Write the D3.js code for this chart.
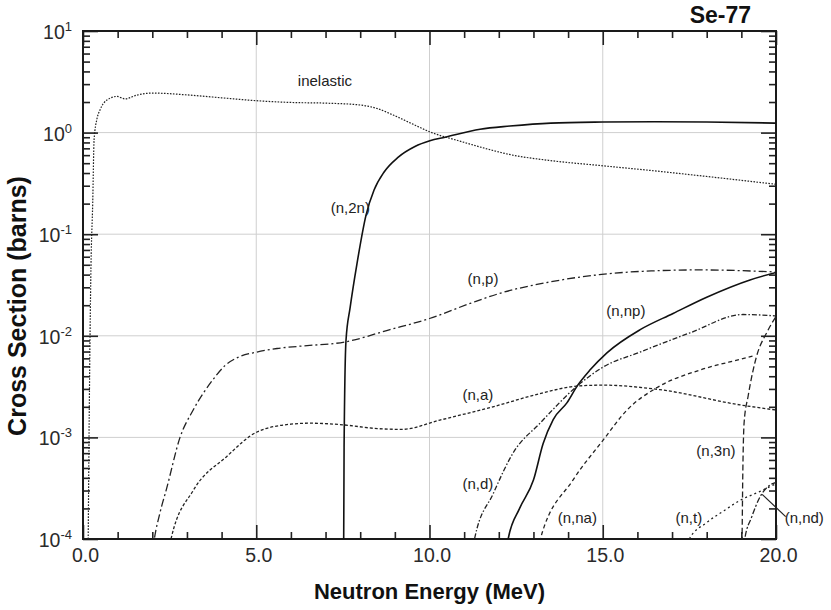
<!DOCTYPE html>
<html>
<head>
<meta charset="utf-8">
<script src="https://cdn.jsdelivr.net/npm/d3@7"></script>
<style>
  html, body { margin: 0; padding: 0; background: #fff; }
  svg { display: block; font-family: "Liberation Sans", Arial, Helvetica, sans-serif; }
</style>
</head>
<body>
<svg id="chart" width="831" height="610"></svg>
<script>
// Se-77 neutron cross sections (barns) vs incident neutron energy (MeV)
const inelasticE  = [0.15, 0.18, 0.23, 0.28, 0.32, 0.40, 0.49, 0.69, 0.98, 1.21, 1.56, 2.0, 3.0, 4.0, 5.1, 6.0, 7.0, 8.0, 8.5, 8.95, 9.5, 10.0, 10.9, 11.6, 12.3, 13.5, 14.9, 16.5, 18.0, 20.0];
const inelasticXS = [1e-4, 1.7e-3, 0.048, 0.2, 0.85, 1.35, 1.67, 2.09, 2.27, 2.15, 2.34, 2.45, 2.35, 2.2, 2.05, 1.98, 1.95, 1.87, 1.72, 1.49, 1.22, 1.02, 0.82, 0.70, 0.61, 0.53, 0.475, 0.42, 0.37, 0.31];

const n2nE  = [7.52, 7.535, 7.59, 7.71, 7.91, 8.17, 8.40, 8.69, 9.09, 9.58, 10.01, 10.45, 11.46, 12.32, 13.5, 15.0, 16.5, 18.0, 20.0];
const n2nXS = [5e-5, 8e-4, 9e-3, 0.019, 0.052, 0.155, 0.272, 0.41, 0.57, 0.73, 0.83, 0.90, 1.08, 1.16, 1.24, 1.27, 1.28, 1.27, 1.24];

const npE  = [1.95, 2.06, 2.22, 2.42, 2.8, 3.18, 3.75, 4.1, 4.5, 5.0, 5.6, 6.26, 7.56, 8.86, 10.0, 11.2, 12.0, 13.5, 14.9, 16.4, 17.8, 20.0];
const npXS = [5e-5, 1e-4, 1.8e-4, 3.2e-4, 1e-3, 1.86e-3, 3.7e-3, 5.1e-3, 6.2e-3, 6.9e-3, 7.5e-3, 7.9e-3, 8.7e-3, 0.0115, 0.0148, 0.021, 0.026, 0.034, 0.040, 0.0435, 0.0445, 0.0425];

const naE  = [2.5, 2.54, 3.18, 4.15, 5.02, 6.0, 6.55, 7.5, 8.5, 9.2, 10.3, 11.83, 13.19, 14.26, 15.0, 16.65, 18.96, 20.0];
const naXS = [8e-5, 1e-4, 3.0e-4, 6.5e-4, 1.13e-3, 1.35e-3, 1.38e-3, 1.33e-3, 1.22e-3, 1.2e-3, 1.48e-3, 2.0e-3, 2.7e-3, 3.2e-3, 3.27e-3, 2.95e-3, 2.09e-3, 1.86e-3];

const nnpE  = [12.2, 12.27, 12.6, 13.0, 13.28, 13.57, 13.97, 14.26, 14.63, 15.12, 16.08, 17.03, 18.0, 19.25, 20.0];
const nnpXS = [6e-5, 1e-4, 2.0e-4, 3.8e-4, 8.7e-4, 1.5e-3, 2.2e-3, 3.2e-3, 4.6e-3, 6.8e-3, 0.0115, 0.0166, 0.024, 0.0355, 0.042];

const ndE  = [11.25, 11.3, 11.84, 12.42, 13.19, 14.26, 15.0, 16.07, 17.52, 19.05, 20.0];
const ndXS = [8e-5, 1e-4, 2.8e-4, 7.1e-4, 1.38e-3, 3.2e-3, 4.9e-3, 6.9e-3, 0.0107, 0.0162, 0.0157];

const nnaE  = [13.15, 13.2, 14.14, 15.0, 15.7, 16.57, 17.8, 19.0, 19.4];
const nnaXS = [8e-5, 1e-4, 3.8e-4, 9.3e-4, 1.86e-3, 3.1e-3, 4.6e-3, 5.9e-3, 6.4e-3];

const n3nE  = [18.99, 19.02, 19.04, 19.08, 19.2, 19.44, 19.73, 20.0];
const n3nXS = [5e-5, 1e-4, 4e-4, 1.4e-3, 2.6e-3, 6.3e-3, 0.0107, 0.0155];

const ntE  = [17.45, 17.5, 18.0, 18.5, 18.96, 19.5, 20.0];
const ntXS = [8e-5, 1e-4, 1.45e-4, 1.9e-4, 2.4e-4, 2.9e-4, 3.5e-4];

const nndE  = [19.08, 19.1, 19.3, 19.54, 19.83, 20.0];
const nndXS = [8e-5, 1e-4, 1.65e-4, 2.6e-4, 3.4e-4, 3.6e-4];

// Axis ticks
const xMajorTicks = [0, 5, 10, 15, 20];
const xMinorTicks = d3.range(0, 21, 1);
const yDecades = [-4, -3, -2, -1, 0, 1];

// Reaction curves with label placement (label anchored in data space)
const reactions = [
  { name: "inelastic", e: inelasticE, xs: inelasticXS, dash: "1.6,1.4", w: 1.2, label: "inelastic", lx: 6.2,  ly: 2.9 },
  { name: "n2n",  e: n2nE, xs: n2nXS, dash: null,          w: 1.6, label: "(n,2n)", lx: 7.15, ly: 0.16 },
  { name: "np",   e: npE,  xs: npXS,  dash: "8,3,2,3",     w: 1.3, label: "(n,p)",  lx: 11.1, ly: 0.0325 },
  { name: "na",   e: naE,  xs: naXS,  dash: "3,2",         w: 1.3, label: "(n,a)",  lx: 10.95, ly: 2.35e-3 },
  { name: "nnp",  e: nnpE, xs: nnpXS, dash: null,          w: 1.6, label: "(n,np)", lx: 15.1, ly: 0.0158 },
  { name: "nd",   e: ndE,  xs: ndXS,  dash: "5,2,1.5,2",   w: 1.3, label: "(n,d)",  lx: 10.95, ly: 3.1e-4 },
  { name: "nna",  e: nnaE, xs: nnaXS, dash: "4,3",         w: 1.3, label: "(n,na)", lx: 13.7, ly: 1.45e-4 },
  { name: "n3n",  e: n3nE, xs: n3nXS, dash: "6,3",         w: 1.3, label: "(n,3n)", lx: 17.7, ly: 6.6e-4 },
  { name: "nt",   e: ntE,  xs: ntXS,  dash: "2,3",         w: 1.3, label: "(n,t)",  lx: 17.1, ly: 1.45e-4 },
  { name: "nnd",  e: nndE, xs: nndXS, dash: "6,2,2,2",     w: 1.3, label: "(n,nd)", lx: 20.25, ly: 1.45e-4 }
];

const svg = d3.select("#chart");
const plotLeft = 83, plotRight = 776, plotTop = 31, plotBottom = 539;

const x = d3.scaleLinear().domain([0, 20]).range([plotLeft, plotRight]);
const y = d3.scaleLog().domain([1e-4, 10]).range([plotBottom, plotTop]);

// grid
const grid = svg.append("g").attr("stroke", "#cfcfcf").attr("stroke-width", 1);
xMajorTicks.filter(v => v > 0 && v < 20).forEach(v => {
  grid.append("line").attr("x1", x(v)).attr("x2", x(v)).attr("y1", plotTop).attr("y2", plotBottom);
});
yDecades.filter(d => d > -4 && d < 1).forEach(d => {
  grid.append("line").attr("x1", plotLeft).attr("x2", plotRight)
    .attr("y1", y(Math.pow(10, d))).attr("y2", y(Math.pow(10, d)));
});

// minor y tick values
const yMinorTicks = [];
for (let d = -4; d < 1; d++) for (let k = 2; k <= 9; k++) yMinorTicks.push(k * Math.pow(10, d));
const yMajorTicks = yDecades.map(d => Math.pow(10, d));

function styleAxis(g) {
  g.select(".domain").remove();
  g.selectAll(".tick line").attr("stroke", "#222").attr("stroke-width", 1.6);
}

// bottom axis
svg.append("g").attr("transform", `translate(0,${plotBottom})`)
  .call(d3.axisBottom(x).tickValues(xMinorTicks.filter(v => v % 5 !== 0)).tickSize(-7).tickFormat(""))
  .call(styleAxis);
svg.append("g").attr("transform", `translate(0,${plotBottom})`)
  .call(d3.axisBottom(x).tickValues(xMajorTicks).tickSize(-14).tickPadding(9).tickFormat(d3.format(".1f")))
  .call(styleAxis)
  .call(g => g.selectAll(".tick text").attr("font-size", 19.5).attr("fill", "#2a2a2a")
    .attr("font-family", "'Liberation Sans', Arial, sans-serif").attr("dx", 2));

// top axis
svg.append("g").attr("transform", `translate(0,${plotTop})`)
  .call(d3.axisTop(x).tickValues(xMinorTicks.filter(v => v % 5 !== 0)).tickSize(-7).tickFormat(""))
  .call(styleAxis);
svg.append("g").attr("transform", `translate(0,${plotTop})`)
  .call(d3.axisTop(x).tickValues(xMajorTicks).tickSize(-14).tickFormat(""))
  .call(styleAxis);

// left axis
svg.append("g").attr("transform", `translate(${plotLeft},0)`)
  .call(d3.axisLeft(y).tickValues(yMinorTicks).tickSize(-7).tickFormat(""))
  .call(styleAxis);
svg.append("g").attr("transform", `translate(${plotLeft},0)`)
  .call(d3.axisLeft(y).tickValues(yMajorTicks).tickSize(-15).tickFormat(""))
  .call(styleAxis);

// right axis
svg.append("g").attr("transform", `translate(${plotRight},0)`)
  .call(d3.axisRight(y).tickValues(yMinorTicks).tickSize(-7).tickFormat(""))
  .call(styleAxis);
svg.append("g").attr("transform", `translate(${plotRight},0)`)
  .call(d3.axisRight(y).tickValues(yMajorTicks).tickSize(-15).tickFormat(""))
  .call(styleAxis);

// y tick labels with superscript exponents
const yLab = svg.append("g").attr("fill", "#2a2a2a");
yDecades.forEach(d => {
  const t = yLab.append("text")
    .attr("x", 72).attr("y", y(Math.pow(10, d)) + 8)
    .attr("text-anchor", "end");
  t.append("tspan").attr("font-size", 19.5).text("10");
  t.append("tspan").attr("font-size", 13).attr("dy", -8).text(String(d));
});

// frame
svg.append("rect").attr("x", plotLeft).attr("y", plotTop)
  .attr("width", plotRight - plotLeft).attr("height", plotBottom - plotTop)
  .attr("fill", "none").attr("stroke", "#1a1a1a").attr("stroke-width", 2);

// clip
svg.append("clipPath").attr("id", "plotClip")
  .append("rect").attr("x", plotLeft).attr("y", plotTop)
  .attr("width", plotRight - plotLeft).attr("height", plotBottom - plotTop);

const line = d3.line()
  .x(d => x(d[0]))
  .y(d => y(d[1]))
  .curve(d3.curveMonotoneX);

const curves = svg.append("g").attr("clip-path", "url(#plotClip)");
reactions.forEach(r => {
  const pts = r.e.map((e, i) => [e, r.xs[i]]);
  curves.append("path")
    .attr("d", line(pts))
    .attr("fill", "none")
    .attr("stroke", r.dash ? "#222" : "#111")
    .attr("stroke-width", r.w)
    .attr("stroke-dasharray", r.dash);
});

// curve labels
const labels = svg.append("g").attr("font-size", 15).attr("fill", "#222");
reactions.forEach(r => {
  labels.append("text").attr("x", x(r.lx)).attr("y", y(r.ly)).text(r.label);
});

// leader for (n,nd)
const nnd = reactions.find(r => r.name === "nnd");
svg.append("line")
  .attr("x1", x(19.6)).attr("y1", y(2.75e-4))
  .attr("x2", x(nnd.lx) + 1).attr("y2", y(nnd.ly) - 6)
  .attr("stroke", "#222").attr("stroke-width", 1.2);

// title
svg.append("text").attr("x", 751).attr("y", 23).attr("text-anchor", "end")
  .attr("font-size", 23).attr("font-weight", "bold").attr("fill", "#111").text("Se-77");

// axis titles
svg.append("text").attr("x", (plotLeft + plotRight) / 2).attr("y", 599).attr("text-anchor", "middle")
  .attr("font-size", 22).attr("font-weight", "bold").attr("fill", "#111").text("Neutron Energy (MeV)");
svg.append("text").attr("transform", "translate(26,306) rotate(-90)")
  .attr("text-anchor", "middle")
  .attr("font-size", 25).attr("font-weight", "bold").attr("fill", "#111").text("Cross Section (barns)");
</script>
</body>
</html>
